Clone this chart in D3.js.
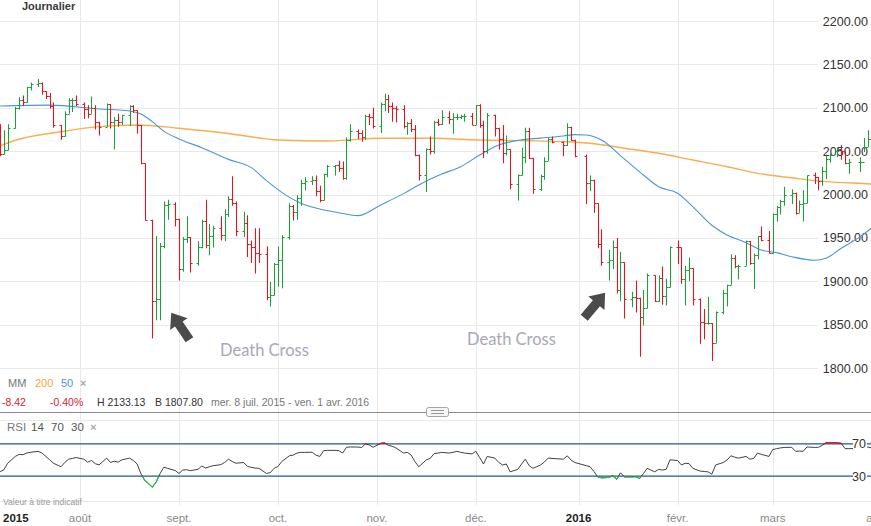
<!DOCTYPE html>
<html lang="fr">
<head>
<meta charset="utf-8">
<script src="https://cdn.jsdelivr.net/npm/d3@7"></script>
<style>
  body { margin: 0; background: #fff; }
  svg { display: block; font-family: "Liberation Sans", Arial, sans-serif; }
</style>
</head>
<body>
<div id="chart"></div>
<script>
// Daily sessions (CFD, holidays with a short session included)
const dates = [
  "2015-07-08","2015-07-09","2015-07-10","2015-07-13","2015-07-14","2015-07-15","2015-07-16","2015-07-17","2015-07-20","2015-07-21","2015-07-22","2015-07-23","2015-07-24","2015-07-27","2015-07-28","2015-07-29","2015-07-30","2015-07-31",
  "2015-08-03","2015-08-04","2015-08-05","2015-08-06","2015-08-07","2015-08-10","2015-08-11","2015-08-12","2015-08-13","2015-08-14","2015-08-17","2015-08-18","2015-08-19","2015-08-20","2015-08-21","2015-08-24","2015-08-25","2015-08-26","2015-08-27","2015-08-28","2015-08-31",
  "2015-09-01","2015-09-02","2015-09-03","2015-09-04","2015-09-07","2015-09-08","2015-09-09","2015-09-10","2015-09-11","2015-09-14","2015-09-15","2015-09-16","2015-09-17","2015-09-18","2015-09-21","2015-09-22","2015-09-23","2015-09-24","2015-09-25","2015-09-28","2015-09-29","2015-09-30",
  "2015-10-01","2015-10-02","2015-10-05","2015-10-06","2015-10-07","2015-10-08","2015-10-09","2015-10-12","2015-10-13","2015-10-14","2015-10-15","2015-10-16","2015-10-19","2015-10-20","2015-10-21","2015-10-22","2015-10-23","2015-10-26","2015-10-27","2015-10-28","2015-10-29","2015-10-30",
  "2015-11-02","2015-11-03","2015-11-04","2015-11-05","2015-11-06","2015-11-09","2015-11-10","2015-11-11","2015-11-12","2015-11-13","2015-11-16","2015-11-17","2015-11-18","2015-11-19","2015-11-20","2015-11-23","2015-11-24","2015-11-25","2015-11-26","2015-11-27","2015-11-30",
  "2015-12-01","2015-12-02","2015-12-03","2015-12-04","2015-12-07","2015-12-08","2015-12-09","2015-12-10","2015-12-11","2015-12-14","2015-12-15","2015-12-16","2015-12-17","2015-12-18","2015-12-21","2015-12-22","2015-12-23","2015-12-24","2015-12-28","2015-12-29","2015-12-30","2015-12-31",
  "2016-01-04","2016-01-05","2016-01-06","2016-01-07","2016-01-08","2016-01-11","2016-01-12","2016-01-13","2016-01-14","2016-01-15","2016-01-18","2016-01-19","2016-01-20","2016-01-21","2016-01-22","2016-01-25","2016-01-26","2016-01-27","2016-01-28","2016-01-29",
  "2016-02-01","2016-02-02","2016-02-03","2016-02-04","2016-02-05","2016-02-08","2016-02-09","2016-02-10","2016-02-11","2016-02-12","2016-02-15","2016-02-16","2016-02-17","2016-02-18","2016-02-19","2016-02-22","2016-02-23","2016-02-24","2016-02-25","2016-02-26","2016-02-29",
  "2016-03-01","2016-03-02","2016-03-03","2016-03-04","2016-03-07","2016-03-08","2016-03-09","2016-03-10","2016-03-11","2016-03-14","2016-03-15","2016-03-16","2016-03-17","2016-03-18","2016-03-21","2016-03-22","2016-03-23","2016-03-24","2016-03-28","2016-03-29","2016-03-30","2016-03-31",
  "2016-04-01"
];

const open = [
  2081,2047,2051,2077,2100,2109,2107,2124,2127,2128,2119,2114,2102,2080,2068,2093,2109,2109,
  2104,2098,2093,2100,2084,2078,2104,2084,2086,2083,2092,2102,2097,2080,2036,1971,1877,1880,1941,1988,1989,
  1972,1914,1949,1951,1921,1940,1969,1942,1952,1961,1953,1978,1995,1990,1958,1967,1943,1939,1932,1931,1882,1884,
  1920,1924,1951,1987,1980,1996,2013,2015,2017,2004,1994,2024,2033,2034,2031,2019,2063,2073,2071,2066,2090,2089,
  2079,2104,2110,2102,2100,2099,2079,2082,2075,2046,2023,2053,2050,2084,2081,2089,2087,2089,2089,2090,2090,
  2080,2103,2080,2050,2092,2077,2064,2048,2052,2012,2022,2043,2073,2042,2006,2021,2039,2064,2061,2057,2078,2063,
  2044,2013,2017,1990,1943,1922,1924,1939,1890,1922,1880,1882,1881,1859,1869,1907,1877,1904,1883,1893,
  1940,1939,1903,1913,1915,1880,1853,1852,1852,1829,1865,1887,1896,1927,1918,1918,1946,1921,1930,1952,1948,
  1932,1978,1986,1993,2000,2002,1979,1989,1990,2022,2020,2016,2027,2041,2050,2052,2050,2036,2037,2037,2055,2064,
  2060
];
const high = [
  2081,2074,2081,2101,2112,2114,2124,2129,2133,2129,2119,2117,2106,2080,2096,2111,2111,2114,
  2106,2103,2113,2103,2084,2105,2104,2089,2093,2092,2103,2103,2097,2080,2036,1971,1952,1944,1992,1994,1991,
  1972,1951,1975,1951,1946,1971,1994,1966,1964,1975,1983,1998,2021,1992,1980,1976,1947,1961,1961,1940,1899,1921,
  1940,1953,1990,1988,1999,2017,2020,2021,2022,2010,2024,2034,2034,2039,2038,2066,2081,2075,2074,2092,2093,2100,
  2106,2116,2115,2106,2102,2103,2084,2087,2080,2046,2053,2067,2085,2087,2097,2096,2094,2093,2092,2093,2094,
  2103,2104,2085,2094,2092,2077,2080,2068,2052,2023,2054,2077,2077,2042,2023,2043,2065,2067,2061,2082,2078,2063,
  2046,2022,2017,1990,1960,1936,1947,1950,1934,1922,1888,1901,1881,1890,1909,1907,1907,1917,1903,1940,
  1947,1939,1918,1927,1915,1880,1868,1882,1852,1865,1890,1896,1931,1930,1919,1947,1946,1932,1952,1963,1958,
  1978,1987,1994,2009,2006,2002,1993,2005,2022,2025,2020,2032,2046,2047,2054,2057,2050,2041,2043,2065,2074,2068,
  2075
];
const low = [
  2044,2046,2051,2076,2098,2102,2106,2120,2124,2115,2110,2099,2077,2063,2067,2093,2095,2102,
  2087,2088,2093,2075,2068,2078,2076,2052,2078,2080,2079,2094,2070,2035,1970,1834,1855,1855,1938,1971,1963,
  1901,1911,1944,1910,1918,1938,1938,1930,1939,1947,1946,1974,1987,1952,1951,1928,1921,1909,1921,1878,1871,1884,
  1894,1892,1948,1970,1971,1987,2005,2011,1998,1991,1993,2020,2022,2026,2017,2017,2061,2064,2061,2063,2080,2076,
  2071,2096,2094,2084,2083,2076,2069,2072,2044,2016,2003,2046,2047,2079,2080,2081,2070,2086,2087,2084,2080,
  2080,2077,2042,2047,2067,2052,2036,2045,2006,1993,2022,2036,2041,2001,2004,2017,2039,2059,2044,2056,2062,2043,
  1989,2004,1979,1938,1918,1901,1914,1886,1877,1857,1870,1864,1813,1849,1869,1876,1876,1873,1872,1893,
  1920,1897,1872,1900,1872,1828,1833,1850,1808,1829,1862,1871,1896,1915,1902,1918,1919,1891,1925,1946,1932,
  1932,1969,1977,1987,1989,1977,1979,1969,1990,2012,2005,2010,2018,2037,2043,2040,2035,2024,2026,2049,2055,2057,
  2044
];
const close = [
  2047,2051,2077,2100,2109,2107,2124,2127,2128,2119,2114,2102,2080,2068,2093,2109,2109,2104,
  2098,2093,2100,2084,2078,2104,2084,2086,2083,2092,2102,2097,2080,2036,1971,1877,1880,1941,1988,1989,1972,
  1914,1949,1951,1921,1940,1969,1942,1952,1961,1953,1978,1995,1990,1958,1967,1943,1939,1932,1931,1882,1884,1920,
  1924,1951,1987,1980,1996,2013,2015,2017,2004,1994,2024,2033,2034,2031,2019,2063,2073,2071,2066,2090,2089,2079,
  2104,2110,2102,2100,2099,2079,2082,2075,2046,2023,2053,2050,2084,2081,2089,2087,2089,2089,2090,2090,2080,
  2103,2080,2050,2092,2077,2064,2048,2052,2012,2022,2043,2073,2042,2006,2021,2039,2064,2061,2057,2078,2063,2044,
  2013,2017,1990,1943,1922,1924,1939,1890,1922,1880,1882,1881,1859,1869,1907,1877,1904,1883,1893,1940,
  1939,1903,1913,1915,1880,1853,1852,1852,1829,1865,1887,1896,1927,1918,1918,1946,1921,1930,1952,1948,1932,
  1978,1986,1993,2000,2002,1979,1989,1990,2022,2020,2016,2027,2041,2045,2052,2050,2036,2037,2037,2055,2064,2060,
  2073
];

// RSI 14, one value per session
const rsi = [
  35.4,38,46,54.4,57,56.5,58.6,59.5,60.7,58.6,54.4,50.5,46,41.7,47,51,52,53,
  51,47.3,49.4,45.5,43.9,52.3,46.9,48.5,47.3,50.2,52.3,49.5,45,33,25,16.5,22.8,33,41,39.7,37,
  33.4,37.6,38,36.8,38.5,42.6,40,41.7,43,44.2,47,51,48.1,46,46.9,42,41,40,39.7,33.4,34.5,39.7,
  42,48.1,55.2,56,58.6,59.4,59.4,59.6,56,54.4,61.5,61.9,61.9,61.5,58.6,65.7,66.1,66,65.5,70,68.5,65.7,
  70.5,71.2,68,67,64.9,58.6,59.4,56,48,41.7,50.2,52,57.8,58.5,59.4,58.6,59.5,60.7,59.5,58.6,57.5,
  60.7,53,45.1,54.4,52.3,47,43.9,45.1,35.4,38.4,45,51,43,39.7,43.9,47.5,52.3,52,51,55.2,50,46.9,
  43,41.7,36,29.2,28,28.5,30.8,26.3,34.2,29.2,29.2,29.5,27.1,33,39.7,35.4,38.4,37.6,38.5,50.2,
  49.4,43.9,46,45.5,39.7,36.3,35.8,35.4,32.5,43.9,46.9,50,55.2,53.5,52.3,54.4,51,52,58.6,57,54.4,
  62.8,64,64.9,65.5,65.7,60.7,61,60.7,66.1,65.5,65.7,68,71.2,71.5,71.2,70.5,64,64,64.5,65,66,65,
  66
];

// Moving averages read at sample sessions
const ma50Dates = ["2015-07-08","2015-07-23","2015-08-07","2015-08-17","2015-08-20","2015-08-24","2015-08-27","2015-09-01","2015-09-08","2015-09-16","2015-09-23","2015-09-28","2015-10-02","2015-10-08","2015-10-14","2015-10-20","2015-10-26","2015-11-02","2015-11-09","2015-11-13","2015-11-20","2015-11-26","2015-12-02","2015-12-08","2015-12-15","2015-12-21","2015-12-28","2015-12-31","2016-01-04","2016-01-08","2016-01-15","2016-01-21","2016-01-26","2016-02-01","2016-02-05","2016-02-11","2016-02-16","2016-02-22","2016-02-26","2016-03-02","2016-03-07","2016-03-14","2016-03-17","2016-03-22","2016-03-28","2016-03-31","2016-04-01"];
const ma50 = [2102,2103,2098.6,2096.3,2092.8,2084,2073,2064,2054,2040.5,2031,2016,2002.5,1990,1983.3,1979,1975.6,1988,2001,2011,2023.5,2032,2045.5,2057,2063,2065,2067.5,2069,2068.5,2062.8,2041,2022.5,2009,2001.5,1986,1964.5,1953.3,1944.5,1936,1933,1928.3,1924.2,1926.5,1938,1951.4,1961.4,1965];
const ma200Dates = ["2015-07-08","2015-07-13","2015-07-27","2015-08-07","2015-08-19","2015-09-01","2015-09-17","2015-10-01","2015-10-16","2015-11-02","2015-11-17","2015-12-02","2015-12-17","2015-12-28","2016-01-05","2016-01-15","2016-01-26","2016-02-05","2016-02-16","2016-02-25","2016-03-08","2016-03-17","2016-03-31","2016-04-01"];
const ma200 = [2056,2062.5,2072.4,2078.2,2080.1,2076.3,2069.7,2062.8,2061.7,2064.8,2064.8,2062.8,2062,2060.9,2059,2053.3,2047.5,2039.8,2032,2024.4,2018.7,2014.8,2012.1,2011.8];

const priceTicks = [1800, 1850, 1900, 1950, 2000, 2050, 2100, 2150, 2200];
const monthLabels = ["août", "sept.", "oct.", "nov.", "déc.", "2016", "févr.", "mars", "avr."];
const rsiLevels = [70, 30];

class OhlcChart {
  constructor(_config) {
    this.config = {
      parentElement: _config.parentElement,
      containerWidth: 871,
      containerHeight: 526,
      priceRange: [368, 21],
      rsiRange: [500.5, 419.5],
      gridRight: 818,
      up: "#1e9e3a",
      down: "#e8111d",
    };
    this.initVis();
  }

  initVis() {
    let vis = this;
    const cfg = vis.config;

    vis.svg = d3.select(cfg.parentElement).append("svg")
      .attr("width", cfg.containerWidth)
      .attr("height", cfg.containerHeight);

    vis.parse = d3.timeParse("%Y-%m-%d");
    const start = vis.parse(dates[0]);
    // weekends take one slot on the axis (saturday is skipped)
    vis.slot = (d) => d3.timeDay.range(start, d).filter((t) => t.getDay() !== 6).length;

    const lastSlot = vis.slot(vis.parse(dates[dates.length - 1]));
    vis.xScale = d3.scaleLinear().domain([0, lastSlot]).range([0.1, 875.5]);
    vis.yScale = d3.scaleLinear().domain([1800, 2200]).range(cfg.priceRange);
    vis.rsiScale = d3.scaleLinear().domain([0, 100]).range(cfg.rsiRange);

    vis.bars = dates.map((d, i) => ({
      date: vis.parse(d), o: open[i], h: high[i], l: low[i], c: close[i], rsi: rsi[i],
    }));

    vis.renderGrid();
    vis.renderPrice();
    vis.renderRsi();
    vis.renderLabels();
  }

  renderGrid() {
    let vis = this;
    const cfg = vis.config;
    const months = d3.timeMonth.range(new Date(2015, 7, 1), new Date(2016, 4, 1));
    vis.months = months;

    vis.svg.append("g").selectAll("line")
      .data(months)
      .join("line")
      .attr("x1", (d) => Math.round(vis.xScale(vis.slot(d))) + 0.5)
      .attr("x2", (d) => Math.round(vis.xScale(vis.slot(d))) + 0.5)
      .attr("y1", 0)
      .attr("y2", 505)
      .attr("stroke", "#e9e9e9");

    vis.svg.append("g").selectAll("line")
      .data(priceTicks)
      .join("line")
      .attr("x1", 0)
      .attr("x2", cfg.gridRight)
      .attr("y1", (d) => Math.round(vis.yScale(d)) + 0.5)
      .attr("y2", (d) => Math.round(vis.yScale(d)) + 0.5)
      .attr("stroke", "#e9e9e9");

    // rsi frame lines (0 and 100)
    vis.svg.append("g").selectAll("line")
      .data([0, 100])
      .join("line")
      .attr("x1", 0)
      .attr("x2", cfg.containerWidth)
      .attr("y1", (d) => Math.round(vis.rsiScale(d)) + 0.5)
      .attr("y2", (d) => Math.round(vis.rsiScale(d)) + 0.5)
      .attr("stroke", "#e9e9e9");
  }

  renderPrice() {
    let vis = this;
    const cfg = vis.config;

    // price labels on the right
    vis.svg.append("g").selectAll("text")
      .data(priceTicks)
      .join("text")
      .attr("x", 868)
      .attr("y", (d) => vis.yScale(d) + 4.5)
      .attr("text-anchor", "end")
      .style("font-size", "12.5px")
      .style("fill", "#333")
      .text((d) => d3.format(".2f")(d));

    const line = d3.line()
      .x((d) => vis.xScale(vis.slot(d.date)))
      .y((d) => vis.yScale(d.v))
      .curve(d3.curveMonotoneX);

    const ma200Data = ma200Dates.map((d, i) => ({ date: vis.parse(d), v: ma200[i] }));
    const ma50Data = ma50Dates.map((d, i) => ({ date: vis.parse(d), v: ma50[i] }));

    vis.svg.append("path")
      .attr("d", line(ma200Data))
      .attr("fill", "none")
      .attr("stroke", "#f7ae4c")
      .attr("stroke-width", 1.4);

    vis.svg.append("path")
      .attr("d", line(ma50Data))
      .attr("fill", "none")
      .attr("stroke", "#4a96d8")
      .attr("stroke-width", 1.1);

    // OHLC bars
    vis.svg.append("g").selectAll("path")
      .data(vis.bars)
      .join("path")
      .attr("d", (d) => {
        const x = Math.round(vis.xScale(vis.slot(d.date))) + 0.5;
        const yo = Math.round(vis.yScale(d.o)) + 0.5;
        const yc = Math.round(vis.yScale(d.c)) + 0.5;
        return `M${x},${vis.yScale(d.h)}V${vis.yScale(d.l)}M${x - 2},${yo}H${x}M${x},${yc}H${x + 2}`;
      })
      .attr("fill", "none")
      .attr("stroke", (d) => (d.c >= d.o ? cfg.up : cfg.down))
      .attr("stroke-width", 1.05);
  }

  renderRsi() {
    let vis = this;
    const cfg = vis.config;

    vis.svg.append("g").selectAll("line")
      .data(rsiLevels)
      .join("line")
      .attr("x1", 0)
      .attr("x2", cfg.containerWidth)
      .attr("y1", (d) => vis.rsiScale(d))
      .attr("y2", (d) => vis.rsiScale(d))
      .attr("stroke", "#1f5a8b")
      .attr("stroke-width", 1.3);

    const rsiLine = d3.line()
      .x((d) => vis.xScale(vis.slot(d.date)))
      .y((d) => vis.rsiScale(d.rsi));

    const defs = vis.svg.append("defs");
    defs.append("clipPath").attr("id", "rsi-low")
      .append("rect")
      .attr("x", 0).attr("y", vis.rsiScale(30))
      .attr("width", cfg.containerWidth).attr("height", 40);
    defs.append("clipPath").attr("id", "rsi-high")
      .append("rect")
      .attr("x", 0).attr("y", vis.rsiScale(100))
      .attr("width", cfg.containerWidth).attr("height", vis.rsiScale(70) - vis.rsiScale(100));

    vis.svg.append("path")
      .attr("d", rsiLine(vis.bars))
      .attr("fill", "none")
      .attr("stroke", "#2b2b2b")
      .attr("stroke-width", 0.9);

    vis.svg.append("path")
      .attr("d", rsiLine(vis.bars))
      .attr("clip-path", "url(#rsi-low)")
      .attr("fill", "none")
      .attr("stroke", "#3cb44b")
      .attr("stroke-width", 1.2);

    vis.svg.append("path")
      .attr("d", rsiLine(vis.bars))
      .attr("clip-path", "url(#rsi-high)")
      .attr("fill", "none")
      .attr("stroke", cfg.down)
      .attr("stroke-width", 1.2);

    // level labels sit on a white patch over the lines
    const lvl = vis.svg.append("g").selectAll("g")
      .data(rsiLevels)
      .join("g");
    lvl.append("rect")
      .attr("x", 853)
      .attr("y", (d) => vis.rsiScale(d) - 6)
      .attr("width", 14)
      .attr("height", 12)
      .attr("fill", "#fff");
    lvl.append("text")
      .attr("x", 866)
      .attr("y", (d) => vis.rsiScale(d) + 4.5)
      .attr("text-anchor", "end")
      .style("font-size", "12.5px")
      .style("fill", "#333")
      .text((d) => d);
  }

  renderLabels() {
    let vis = this;
    const cfg = vis.config;

    vis.svg.append("text")
      .attr("x", 22).attr("y", 10)
      .style("font-size", "11px")
      .style("font-weight", "bold")
      .style("fill", "#3a3a3a")
      .text("Journalier");

    // Death Cross annotations
    const note = vis.svg.append("g")
      .style("font-family", "Lato, 'Open Sans', sans-serif")
      .style("font-size", "16.5px")
      .style("fill", "#a9a9b4");
    note.append("text").attr("x", 220).attr("y", 355.5).text("Death Cross");
    note.append("text").attr("x", 467).attr("y", 344.5).text("Death Cross");

    const arrow = "M0,-16.5L10.5,-3L4.6,-3L4.6,16L-4.6,16L-4.6,-3L-10.5,-3Z";
    vis.svg.append("path")
      .attr("d", arrow)
      .attr("transform", "translate(180.5,326.5) rotate(-34)")
      .attr("fill", "#4b4b4b");
    vis.svg.append("path")
      .attr("d", arrow)
      .attr("transform", "translate(594.5,305.5) rotate(40)")
      .attr("fill", "#4b4b4b");

    // indicator legend
    const mm = vis.svg.append("text").attr("y", 387).style("font-size", "11px");
    mm.append("tspan").attr("x", 8).style("fill", "#777").text("MM");
    mm.append("tspan").attr("x", 35).style("fill", "#f5a83e").text("200");
    mm.append("tspan").attr("x", 61).style("fill", "#4a96d8").text("50");
    mm.append("tspan").attr("x", 80).style("fill", "#aaa").style("font-weight", "bold").text("×");

    const info = vis.svg.append("text").attr("y", 406).style("font-size", "10.5px");
    info.append("tspan").attr("x", 2).style("fill", "#d8232a").text("-8.42");
    info.append("tspan").attr("x", 50).style("fill", "#d8232a").text("-0.40%");
    info.append("tspan").attr("x", 97).style("fill", "#333").text("H 2133.13");
    info.append("tspan").attr("x", 155).style("fill", "#333").text("B 1807.80");
    info.append("tspan").attr("x", 211).style("fill", "#777").text("mer. 8 juil. 2015 - ven. 1 avr. 2016");

    // panel separator with drag handle
    vis.svg.append("line")
      .attr("x1", 0).attr("x2", cfg.containerWidth)
      .attr("y1", 412.5).attr("y2", 412.5)
      .attr("stroke", "#8c8c8c");
    vis.svg.append("rect")
      .attr("x", 426.5).attr("y", 407.5)
      .attr("width", 22).attr("height", 9).attr("rx", 2)
      .attr("fill", "#f6f6f6").attr("stroke", "#a5a5a5");
    vis.svg.append("path")
      .attr("d", "M431,410.5H444M431,413.5H444")
      .attr("stroke", "#999");

    const rl = vis.svg.append("text").attr("y", 431).style("font-size", "11.5px");
    rl.append("tspan").attr("x", 7).style("fill", "#777").text("RSI");
    rl.append("tspan").attr("x", 31).style("fill", "#555").text("14");
    rl.append("tspan").attr("x", 51).style("fill", "#555").text("70");
    rl.append("tspan").attr("x", 71).style("fill", "#555").text("30");
    rl.append("tspan").attr("x", 90).style("fill", "#aaa").style("font-weight", "bold").text("×");

    vis.svg.append("text")
      .attr("x", 3).attr("y", 505)
      .style("font-size", "8.5px")
      .style("fill", "#999")
      .text("Valeur à titre indicatif");

    // time axis
    vis.svg.append("text")
      .attr("x", 3).attr("y", 522)
      .style("font-size", "11.5px")
      .style("font-weight", "bold")
      .style("fill", "#222")
      .text("2015");

    vis.svg.append("g").selectAll("text")
      .data(vis.months)
      .join("text")
      .attr("x", (d) => vis.xScale(vis.slot(d)))
      .attr("y", 522)
      .attr("text-anchor", "middle")
      .style("font-size", "11.5px")
      .style("font-weight", (d, i) => (monthLabels[i] === "2016" ? "bold" : "normal"))
      .style("fill", (d, i) => (monthLabels[i] === "2016" ? "#222" : "#8a8a8a"))
      .text((d, i) => monthLabels[i]);
  }
}

new OhlcChart({ parentElement: "#chart" });
</script>
</body>
</html>
